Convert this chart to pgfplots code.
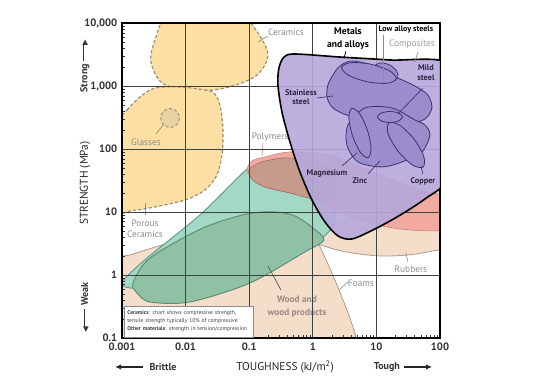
\documentclass[border=0pt]{standalone}
\usepackage{pgfplots}
\pgfplotsset{compat=1.18}
\usepackage{fontspec}
\setmainfont{PT Sans}
\newfontfamily\dejavu{DejaVu Sans}
\usetikzlibrary{arrows.meta}
\definecolor{cyel}{HTML}{FCDFA2}
\definecolor{cglass}{HTML}{E6D2A2}
\definecolor{cdash}{HTML}{9E8E72}
\definecolor{cteal}{HTML}{A2D8C4}
\definecolor{ctealo}{HTML}{5E9C86}
\definecolor{cwood}{HTML}{8FC2A4}
\definecolor{cwoodo}{HTML}{5B8C74}
\definecolor{cbeige}{HTML}{F4DDC9}
\definecolor{cbeigeo}{HTML}{A99C90}
\definecolor{cpink}{HTML}{F2A9A0}
\definecolor{cpinko}{HTML}{C88C86}
\definecolor{cbrown}{HTML}{C59C8C}
\definecolor{cpurp}{HTML}{B6A7DC}
\definecolor{cmetal}{HTML}{9B8DCB}
\definecolor{cmetalo}{HTML}{3B3272}
\definecolor{clab}{HTML}{8C8C8C}
\definecolor{cwlab}{HTML}{9A8A80}
\definecolor{cdark}{HTML}{2A2640}
\tikzset{
  lab/.style={font=\fontsize{7}{8.25}\selectfont, text=clab, align=center},
  mlab/.style={font=\fontsize{6.2}{6.9}\selectfont\bfseries, text=cdark, align=center},
  lead/.style={draw=clab, line width=0.45pt},
  mlead/.style={draw=cmetalo, line width=0.5pt},
  yel/.style={fill=cyel, draw=cdash, line width=0.9pt, dash pattern=on 2.4pt off 1.6pt, smooth cycle},
  met/.style={fill=cmetal, draw=cmetalo, line width=0.6pt, smooth cycle},
  arr/.style={-{Latex[length=4.5pt,width=4pt]}, line width=0.8pt, draw=black!85},
}
\newcommand{\tipR}{{\dejavu\fontsize{5.5}{6}\selectfont\raisebox{0.2pt}{▶}}}
\newcommand{\tipL}{{\dejavu\fontsize{5.5}{6}\selectfont\raisebox{0.2pt}{◀}}}
\newcommand{\shaft}[1]{\rule[2.3pt]{#1}{0.75pt}}
\begin{document}
\begin{tikzpicture}
\begin{axis}[
  set layers=axis on top, clip mode=individual,
  scale only axis, width=238.5pt, height=236.25pt,
  xmin=-3, xmax=2, ymin=-1, ymax=4,
  xtick={-3,-2,-1,0,1,2}, xticklabels={0.001,0.01,0.1,1,10,100},
  ytick={-1,0,1,2,3,4}, yticklabels={0.1,1,10,100,{1,000},{10,000}},
  minor xtick={-2.699,-2.523,-2.398,-2.301,-2.222,-2.155,-2.097,-2.046,-1.699,-1.523,-1.398,-1.301,-1.222,-1.155,-1.097,-1.046,-0.699,-0.523,-0.398,-0.301,-0.222,-0.155,-0.097,-0.046,0.301,0.477,0.602,0.699,0.778,0.845,0.903,0.954,1.301,1.477,1.602,1.699,1.778,1.845,1.903,1.954},
  minor ytick={-0.699,-0.523,-0.398,-0.301,-0.222,-0.155,-0.097,-0.046,0.301,0.477,0.602,0.699,0.778,0.845,0.903,0.954,1.301,1.477,1.602,1.699,1.778,1.845,1.903,1.954,2.301,2.477,2.602,2.699,2.778,2.845,2.903,2.954,3.301,3.477,3.602,3.699,3.778,3.845,3.903,3.954},
  grid=major, major grid style={draw=black!75, line width=0.5pt},
  tick pos=left, tick align=inside, major tick length=0pt, minor tick length=2.5pt,
  minor tick style={black!80, line width=0.4pt},
  axis line style={black, line width=0.8pt},
  tick label style={font=\fontsize{8}{9}\selectfont\bfseries, text=black!80},
]
% beige foams and rubbers
\addplot[fill=cbeige, draw=cbeigeo, line width=0.6pt, smooth cycle] coordinates {(-3.346,-1.428) (-3.346,0.159) (-2.874,0.318) (-2.088,0.556) (-0.988,0.794) (-0.281,0.874) (-0.076,0.746) (0.081,0.509) (0.223,0.207) (0.380,-0.158) (0.537,-0.555) (0.647,-0.872) (0.710,-1.110) (0.820,-1.428)};
\addplot[fill=cbeige, draw=cbeigeo, line width=0.6pt, smooth cycle] coordinates {(-0.013,0.556) (0.270,0.746) (0.741,0.953) (1.370,1.159) (1.842,1.302) (2.235,1.381) (2.313,0.874) (2.157,0.461) (1.889,0.382) (1.496,0.318) (1.056,0.302) (0.616,0.350) (0.270,0.429)};
% ceramics
\addplot[yel] coordinates {(-2.481,3.730) (-2.245,4.127) (-1.224,4.175) (-0.894,3.889) (-0.705,3.492) (-0.894,3.159) (-1.381,2.968) (-1.931,2.921) (-2.371,3.048) (-2.544,3.381)};
\addplot[yel] coordinates {(-3.157,2.302) (-2.921,2.619) (-2.717,2.826) (-2.481,2.968) (-2.088,2.984) (-1.695,2.937) (-1.554,2.889) (-1.459,2.699) (-1.412,2.302) (-1.428,1.905) (-1.507,1.588) (-1.695,1.350) (-2.010,1.191) (-2.481,1.080) (-2.874,1.016) (-3.157,0.985) (-3.267,1.667)};
\addplot[yel, fill=cglass, line width=0.7pt] coordinates {(-2.096,2.492) (-2.140,2.599) (-2.245,2.643) (-2.350,2.599) (-2.394,2.492) (-2.350,2.385) (-2.245,2.341) (-2.140,2.385)};
% teal and wood
\addplot[fill=cteal, draw=ctealo, line width=0.7pt, smooth cycle, tension=0.45] coordinates {(-3.000,-0.110) (-2.607,0.270) (-1.774,0.953) (-1.019,1.699) (-0.799,1.810) (-0.359,1.873) (0.270,1.667) (0.348,0.874) (0.144,0.588) (-0.202,0.397) (-1.302,0.048) (-2.403,-0.190) (-2.874,-0.206)};
\addplot[fill=cwood, draw=cwoodo, line width=0.7pt, smooth cycle] coordinates {(-2.827,-0.127) (-2.560,0.270) (-1.727,0.746) (-1.035,0.969) (-0.595,1.001) (-0.281,0.937) (0.003,0.746) (0.175,0.556) (-0.124,0.366) (-0.988,-0.127) (-1.931,-0.428) (-2.560,-0.428) (-2.764,-0.285)};
% polymers
\addplot[fill=cpink, draw=cpinko, line width=0.5pt, smooth cycle] coordinates {(-1.035,1.667) (-0.956,1.810) (-0.752,1.873) (-0.359,1.953) (0.270,1.905) (1.056,1.588) (1.685,1.350) (2.078,1.239) (2.157,0.953) (2.078,0.715) (1.370,0.730) (0.741,0.874) (0.003,1.207) (-0.359,1.302) (-0.752,1.397) (-0.941,1.508)};
\addplot[fill=cbrown, draw=cpinko!80!black, line width=0.5pt, smooth cycle, tension=0.5] coordinates {(-1.004,1.667) (-0.799,1.794) (-0.359,1.857) (0.270,1.699) (0.348,1.191) (0.003,1.207) (-0.359,1.302) (-0.752,1.397) (-0.941,1.508)};
% labels on main layer
\node[lab] at (axis cs:-0.422,3.857) {Ceramics};
\draw[draw=cdash, line width=0.5pt] (axis cs:-0.862,3.698) -- (axis cs:-0.705,3.794);
\node[lab] at (axis cs:-2.623,2.111) {Glasses};
\draw[draw=cdash, line width=0.5pt] (axis cs:-2.466,2.239) -- (axis cs:-2.340,2.397);
\node[lab] at (axis cs:-2.638,0.739) {Porous\\Ceramics};
\draw[draw=cdash, line width=0.5pt] (axis cs:-2.638,0.953) -- (axis cs:-2.638,1.143);
\node[lab] at (axis cs:-0.673,2.191) {Polymers};
\draw[draw=cpinko, line width=0.5pt] (axis cs:-0.783,2.096) -- (axis cs:-0.799,1.889);
\node[lab] at (axis cs:1.543,0.096) {Rubbers};
\draw[lead] (axis cs:1.496,0.207) -- (axis cs:1.464,0.350);
\node[lab] at (axis cs:0.757,-0.127) {Foams};
\draw[lead] (axis cs:0.553,-0.110) -- (axis cs:0.427,-0.222);
\node[lab, text=cwlab, font=\fontsize{7}{9.5}\selectfont\bfseries] at (axis cs:-0.249,-0.499) {Wood and\\wood products};
\draw[draw=cwoodo!70!black, line width=0.5pt] (axis cs:-0.501,-0.237) -- (axis cs:-0.705,0.144);
\node[lab, text=clab!85] at (axis cs:1.559,3.667) {Composites};
% metals on foreground
\addplot[on layer=axis foreground, fill=cpurp, fill opacity=0.9, draw=black, line width=1.2pt, smooth cycle] coordinates {(-0.548,3.016) (-0.532,3.286) (-0.453,3.460) (-0.281,3.508) (0.427,3.460) (1.213,3.413) (2.157,3.349) (2.235,2.461) (2.125,1.540) (1.763,1.207) (1.323,0.921) (0.946,0.715) (0.616,0.572) (0.396,0.620) (0.191,0.842) (-0.013,1.191) (-0.202,1.635) (-0.359,2.111) (-0.485,2.588)};
\addplot[on layer=axis foreground, met] coordinates {(0.238,3.016) (0.223,2.826) (0.317,2.651) (0.584,2.524) (1.056,2.461) (1.527,2.413) (1.763,2.476) (1.873,2.651) (1.810,2.857) (1.606,3.000) (1.339,3.127) (0.977,3.318) (0.616,3.397) (0.427,3.318) (0.317,3.175)};
\addplot[on layer=axis foreground, met] coordinates {(1.336,3.135) (1.243,3.080) (1.097,3.107) (0.982,3.203) (0.965,3.310) (1.057,3.365) (1.204,3.337) (1.318,3.241)};
\addplot[on layer=axis foreground, met] coordinates {(1.314,3.114) (1.166,3.043) (0.853,3.067) (0.557,3.173) (0.452,3.299) (0.600,3.370) (0.913,3.346) (1.208,3.240)};
\addplot[on layer=axis foreground, met] coordinates {(0.820,2.651) (1.244,2.651) (1.606,2.461) (1.763,2.381) (1.842,2.223) (1.716,1.953) (1.402,1.794) (1.087,1.715) (0.710,1.794) (0.537,2.064) (0.553,2.381)};
\addplot[on layer=axis foreground, met] coordinates {(0.867,1.862) (0.746,1.950) (0.622,2.215) (0.567,2.503) (0.616,2.646) (0.737,2.559) (0.861,2.294) (0.916,2.005)};
\addplot[on layer=axis foreground, met] coordinates {(1.735,1.713) (1.568,1.746) (1.340,1.965) (1.185,2.242) (1.194,2.415) (1.361,2.381) (1.589,2.162) (1.744,1.886)};
\addplot[on layer=axis foreground, met] coordinates {(1.409,2.508) (1.351,2.446) (1.213,2.421) (1.075,2.446) (1.016,2.508) (1.075,2.570) (1.213,2.596) (1.351,2.570)};
\begin{pgfonlayer}{axis foreground}
\node[mlab, font=\fontsize{7.2}{9.5}\selectfont\bfseries, text=black] at (axis cs:0.553,3.754) {Metals\\and alloys};
\draw[draw=black, line width=0.6pt] (axis cs:0.521,3.55) -- (axis cs:0.490,3.44);
\node[mlab, font=\fontsize{6}{7}\selectfont\bfseries, text=black] at (axis cs:1.464,3.889) {Low alloy steels};
\draw[lead] (axis cs:1.103,3.810) -- (axis cs:1.103,3.095);
\draw[lead] (axis cs:1.653,3.540) -- (axis cs:1.606,3.381);
\node[mlab] at (axis cs:1.779,3.214) {Mild\\steel};
\draw[mlead] (axis cs:1.732,2.968) -- (axis cs:1.339,2.556);
\node[mlab] at (axis cs:-0.186,2.818) {Stainless\\steel};
\draw[mlead] (axis cs:0.065,2.810) -- (axis cs:0.317,2.841);
\node[mlab] at (axis cs:0.223,1.619) {Magnesium};
\draw[mlead] (axis cs:0.458,1.730) -- (axis cs:0.694,1.937);
\node[mlab] at (axis cs:0.741,1.492) {Zinc};
\draw[mlead] (axis cs:0.867,1.603) -- (axis cs:1.056,1.810);
\node[mlab] at (axis cs:1.732,1.492) {Copper};
\draw[mlead] (axis cs:1.732,1.603) -- (axis cs:1.700,1.730);
\node[draw=black!45, fill=white, line width=0.4pt, anchor=south west, text width=92pt, minimum height=23.25pt, inner sep=2.4pt, align=left, font=\fontsize{4.2}{5.6}\selectfont, text=black!75] at (axis cs:-2.97,-0.985) {\textbf{Ceramics}: chart shows compressive strength,\\ tensile strength typically 10\% of compressive\\[0.6pt] \textbf{Other materials}: strength in tension/compression};
\end{pgfonlayer}
% axis descriptions
\node[rotate=90, font=\fontsize{8.5}{10}\selectfont, text=black!85] at (rel axis cs:-0.1164,0.492) {STRENGTH (MPa)};
\node[rotate=90, anchor=west, inner sep=0pt, font=\fontsize{7.5}{9}\selectfont\bfseries, text=black!80] at (rel axis cs:-0.1164,0.778) {Strong\hspace{2.5pt}\shaft{12.5pt}\hspace{-1pt}\tipR};
\node[rotate=90, anchor=east, inner sep=0pt, font=\fontsize{7.5}{9}\selectfont\bfseries, text=black!80] at (rel axis cs:-0.1164,0.178) {\tipL\hspace{-1pt}\shaft{14pt}\hspace{3pt}Weak};
\node[font=\fontsize{8.5}{10}\selectfont, text=black!85] at (rel axis cs:0.513,-0.092) {TOUGHNESS (kJ/m\textsuperscript{2})};
\node[font=\fontsize{7.5}{9}\selectfont\bfseries, text=black!80] at (rel axis cs:0.129,-0.092) {Brittle};
\draw[arr] (rel axis cs:0.066,-0.092) -- (rel axis cs:-0.022,-0.092);
\node[font=\fontsize{7.5}{9}\selectfont\bfseries, text=black!80] at (rel axis cs:0.833,-0.092) {Tough};
\draw[arr] (rel axis cs:0.887,-0.092) -- (rel axis cs:0.975,-0.092);
\end{axis}
\pgfresetboundingbox
\path[use as bounding box] (-91.5pt,-33pt) rectangle (318pt,253.5pt);
\end{tikzpicture}
\end{document}
